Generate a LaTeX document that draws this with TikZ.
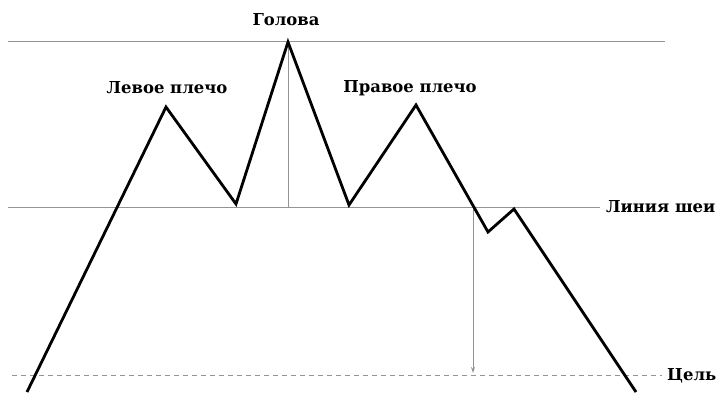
\documentclass[tikz,border=0pt]{standalone}
\usepackage{fontspec}
\setmainfont{DejaVu Serif}
\usetikzlibrary{arrows.meta}
\begin{document}
\begin{tikzpicture}[x=1bp,y=-1bp,
  guide/.style={draw=black!42,line width=1bp},
  price/.style={draw=black,line width=2.8bp,line join=miter},
  lbl/.style={font=\bfseries\fontsize{16.5}{18}\selectfont,inner sep=0pt}]
\useasboundingbox (0,0) rectangle (722,392);
% guides
\draw[guide] (8,41) -- (665,41);
\draw[guide] (8,207) -- (600,207);
\draw[guide,dashed,dash pattern=on 5bp off 4bp] (12,375) -- (662,375);
% points
\coordinate (p0) at (27,392);
\coordinate (ls) at (166,107);
\coordinate (v1) at (236,204);
\coordinate (hd) at (288,42);
\coordinate (v2) at (349,205);
\coordinate (rs) at (416,105);
\coordinate (d1) at (488,232);
\coordinate (r1) at (514,209);
\coordinate (pe) at (636,392);
\coordinate (hb) at (288,207);
\coordinate (nk) at (473,207);
\coordinate (tg) at (473,373);
\draw[guide] (hd) -- (hb);
\draw[guide,-{Stealth[length=6bp,width=4bp]}] (nk) -- (tg);
\draw[price] (p0) -- (ls) -- (v1) -- (hd) -- (v2) -- (rs) -- (d1) -- (r1) -- (pe);
% labels
\node[lbl] (head) at (286,20) {Голова};
\node[lbl] (lsh) at (167,88) {Левое плечо};
\node[lbl] (rsh) at (410,88) {Правое плечо};
\node[lbl,anchor=west] (neck) at (606,207) {Линия шеи};
\node[lbl,anchor=west] (goal) at (667,376) {Цель};
\end{tikzpicture}
\end{document}
